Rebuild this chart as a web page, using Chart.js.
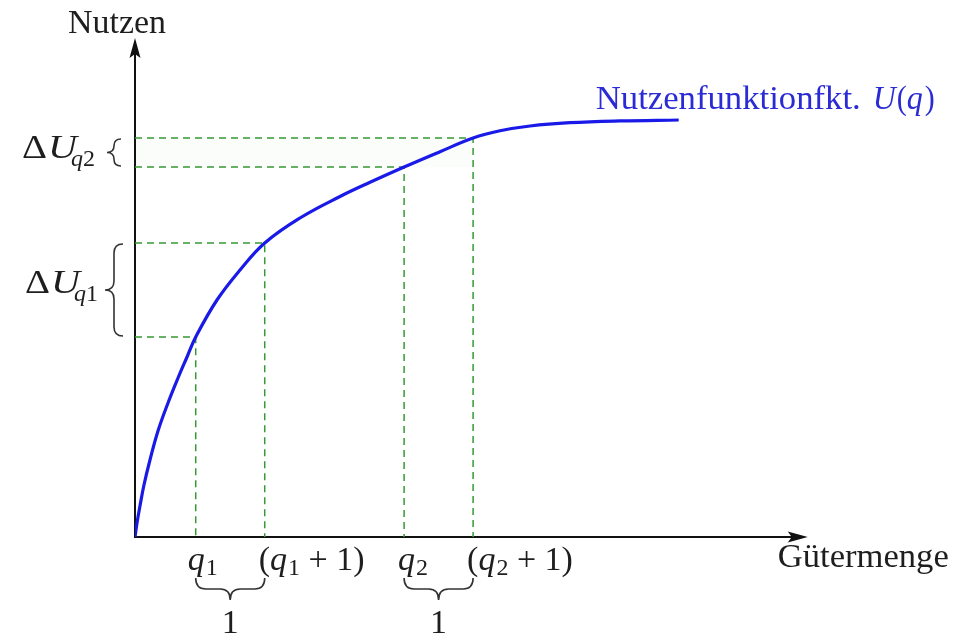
<!DOCTYPE html>
<html>
<head>
<meta charset="utf-8">
<script src="https://cdn.jsdelivr.net/npm/chart.js"></script>
<style>
html,body{margin:0;padding:0;background:#fff;}
#wrap{width:963px;height:636px;position:relative;}
</style>
</head>
<body>
<div id="wrap"><canvas id="c" width="963" height="636"></canvas></div>
<script>
// ---- data ----
const curveQ = [0, 0.029, 0.072, 0.130, 0.217, 0.333, 0.478, 0.623, 0.754, 0.88, 1.188, 1.522, 1.88, 2.391, 2.971, 3.406, 3.90, 4.42, 4.90, 5.29, 5.725, 6.304, 7.029, 7.88];
const curveU = [0, 0.14, 0.31, 0.52, 0.77, 1.06, 1.34, 1.59, 1.80, 2.00, 2.37, 2.67, 2.94, 3.19, 3.405, 3.547, 3.70, 3.853, 3.99, 4.062, 4.110, 4.143, 4.161, 4.17];
const markQ = [0.88, 1.88, 3.90, 4.90];     // q1, q1+1, q2, q2+1
const markU = [2.00, 2.94, 3.70, 3.99];     // U at those quantities
const xAxisMax = 10, yAxisMax = 5;
const xArrowTip = 9.75, yArrowTip = 4.99;
const axisTitleX = 'Gütermenge';
const axisTitleY = 'Nutzen';
const curveLabel = 'Nutzenfunktionfkt.';

const SERIF = "'Liberation Serif', 'DejaVu Serif', serif";
const FS = 34, SUB = 24;

function drawParts(ctx, parts, x, base, color) {
  ctx.save();
  ctx.fillStyle = color;
  ctx.textBaseline = 'alphabetic';
  ctx.textAlign = 'left';
  let cx = x;
  for (const p of parts) {
    const size = p.sub ? SUB : FS;
    ctx.font = (p.it ? 'italic ' : '') + size + 'px ' + SERIF;
    const w = ctx.measureText(p.t).width;
    const yb = base + (p.sub ? (p.dy || 7) : 0);
    if (p.w) {
      ctx.save();
      ctx.translate(cx, yb);
      ctx.scale(p.w / w, 1);
      ctx.fillText(p.t, 0, 0);
      ctx.restore();
      cx += p.w;
    } else {
      ctx.fillText(p.t, cx, yb);
      cx += w;
    }
    if (p.gap) cx += p.gap;
  }
  ctx.restore();
}

function vBrace(ctx, x, y1, y2, d) {
  const mid = (y1 + y2) / 2;
  const r = Math.min(9, (y2 - y1) / 4);
  const xm = x - d / 2;
  ctx.beginPath();
  ctx.moveTo(x, y1);
  ctx.quadraticCurveTo(xm, y1, xm, y1 + r);
  ctx.lineTo(xm, mid - r);
  ctx.quadraticCurveTo(xm, mid, x - d, mid);
  ctx.quadraticCurveTo(xm, mid, xm, mid + r);
  ctx.lineTo(xm, y2 - r);
  ctx.quadraticCurveTo(xm, y2, x, y2);
  ctx.stroke();
}
function hBrace(ctx, x1, x2, y, d) {
  const mid = (x1 + x2) / 2;
  const r = Math.min(10, (x2 - x1) / 4);
  const ym = y + d / 2;
  ctx.beginPath();
  ctx.moveTo(x1, y);
  ctx.quadraticCurveTo(x1, ym, x1 + r, ym);
  ctx.lineTo(mid - r, ym);
  ctx.quadraticCurveTo(mid, ym, mid, y + d);
  ctx.quadraticCurveTo(mid, ym, mid + r, ym);
  ctx.lineTo(x2 - r, ym);
  ctx.quadraticCurveTo(x2, ym, x2, y);
  ctx.stroke();
}

const axesPlugin = {
  id: 'axesArrows',
  beforeDatasetsDraw(chart) {
    const ctx = chart.ctx;
    const xs = chart.scales.x, ys = chart.scales.y;
    const x0 = xs.getPixelForValue(0), y0 = ys.getPixelForValue(0);
    const xt = xs.getPixelForValue(xArrowTip), yt = ys.getPixelForValue(yArrowTip);
    ctx.save();
    ctx.fillStyle = 'rgba(120,200,120,0.03)';
    const ya = ys.getPixelForValue(markU[3]), yb = ys.getPixelForValue(markU[2]);
    ctx.fillRect(x0, ya, xs.getPixelForValue(markQ[3]) - x0, yb - ya);
    ctx.restore();
    ctx.save();
    ctx.strokeStyle = '#111';
    ctx.fillStyle = '#111';
    ctx.lineWidth = 2;
    ctx.beginPath();
    ctx.moveTo(x0 - 1, y0); ctx.lineTo(xt - 10, y0);
    ctx.moveTo(x0, y0 + 1); ctx.lineTo(x0, yt + 10);
    ctx.stroke();
    ctx.beginPath();
    ctx.moveTo(xt, y0); ctx.lineTo(xt - 20, y0 - 5.5); ctx.lineTo(xt - 16, y0); ctx.lineTo(xt - 20, y0 + 5.5); ctx.closePath();
    ctx.fill();
    ctx.beginPath();
    ctx.moveTo(x0, yt); ctx.lineTo(x0 - 5.5, yt + 20); ctx.lineTo(x0, yt + 16); ctx.lineTo(x0 + 5.5, yt + 20); ctx.closePath();
    ctx.fill();
    ctx.restore();
  },
  afterDraw(chart) {
    const ctx = chart.ctx;
    const xs = chart.scales.x, ys = chart.scales.y;
    const x0 = xs.getPixelForValue(0);
    const px = markQ.map(v => xs.getPixelForValue(v));
    const py = markU.map(v => ys.getPixelForValue(v));
    const ink = '#1e1e1e';
    drawParts(ctx, [{t: axisTitleY, w: 98}], x0 - 67, 33, ink);
    drawParts(ctx, [{t: axisTitleX, w: 171}], xs.getPixelForValue(xArrowTip) - 30, 567, ink);
    const blue = '#2b2bd6';
    const endX = xs.getPixelForValue(curveQ[curveQ.length - 1]);
    drawParts(ctx, [
      {t: curveLabel, w: 265, gap: 12},
      {t: 'U', it: true, w: 23, gap: 1},
      {t: '(', w: 10},
      {t: 'q', it: true, w: 16, gap: 2},
      {t: ')', w: 10}
    ], endX - 83, 109, blue);
    const xb = 570;
    drawParts(ctx, [{t: 'q', it: true, gap: 1}, {t: '1', sub: true, dy: 5}], px[0] - 8, xb, ink);
    drawParts(ctx, [{t: '('}, {t: 'q', it: true, gap: 1}, {t: '1', sub: true, dy: 5}, {t: ' + 1)'}], px[1] - 6, xb, ink);
    drawParts(ctx, [{t: 'q', it: true, gap: 1}, {t: '2', sub: true, dy: 5}], px[2] - 6, xb, ink);
    drawParts(ctx, [{t: '('}, {t: 'q', it: true, gap: 1}, {t: '2', sub: true, dy: 5}, {t: ' + 1)'}], px[3] - 6, xb, ink);
    ctx.save();
    ctx.strokeStyle = '#333';
    ctx.lineWidth = 1.6;
    hBrace(ctx, px[0], px[1], 578, 22);
    hBrace(ctx, px[2], px[3], 578, 22);
    vBrace(ctx, x0 - 12, py[1] + 1, py[0] - 1, 18);
    vBrace(ctx, x0 - 14, py[3] + 1, py[2] - 1, 14);
    ctx.restore();
    ctx.save();
    ctx.font = FS + 'px ' + SERIF;
    ctx.fillStyle = ink;
    ctx.textAlign = 'center';
    ctx.fillText('1', (px[0] + px[1]) / 2, 633);
    ctx.fillText('1', (px[2] + px[3]) / 2, 633);
    ctx.restore();
    drawParts(ctx, [{t: 'Δ', w: 25, gap: 1}, {t: 'U', it: true, w: 29, gap: -6}, {t: 'q', it: true, sub: true, dy: 8}, {t: '1', sub: true, dy: 8}],
      25, (py[0] + py[1]) / 2 + 3, ink);
    drawParts(ctx, [{t: 'Δ', w: 25, gap: 1}, {t: 'U', it: true, w: 29, gap: -6}, {t: 'q', it: true, sub: true, dy: 8}, {t: '2', sub: true, dy: 8}],
      22, (py[2] + py[3]) / 2 + 5, ink);
  }
};

const guideColor = '#359a35';
const guides = markQ.map((q, i) => ({
  data: [{x: 0, y: markU[i]}, {x: q, y: markU[i]}, {x: q, y: 0}],
  borderColor: guideColor,
  borderWidth: 1.5,
  borderDash: [7, 5],
  pointRadius: 0,
  tension: 0,
  fill: false
}));

new Chart(document.getElementById('c'), {
  type: 'line',
  data: {
    datasets: [
      {
        data: curveQ.map((q, i) => ({x: q, y: curveU[i]})),
        borderColor: '#1a1ae8',
        borderWidth: 3.2,
        pointRadius: 0,
        tension: 0.4,
        fill: false
      },
      ...guides
    ]
  },
  options: {
    responsive: false,
    animation: false,
    devicePixelRatio: 1,
    layout: {padding: {left: 135, right: 138, top: 37, bottom: 99}},
    plugins: {legend: {display: false}, tooltip: {enabled: false}},
    scales: {
      x: {type: 'linear', min: 0, max: xAxisMax, display: false},
      y: {type: 'linear', min: 0, max: yAxisMax, display: false}
    }
  },
  plugins: [axesPlugin]
});
</script>
</body>
</html>
